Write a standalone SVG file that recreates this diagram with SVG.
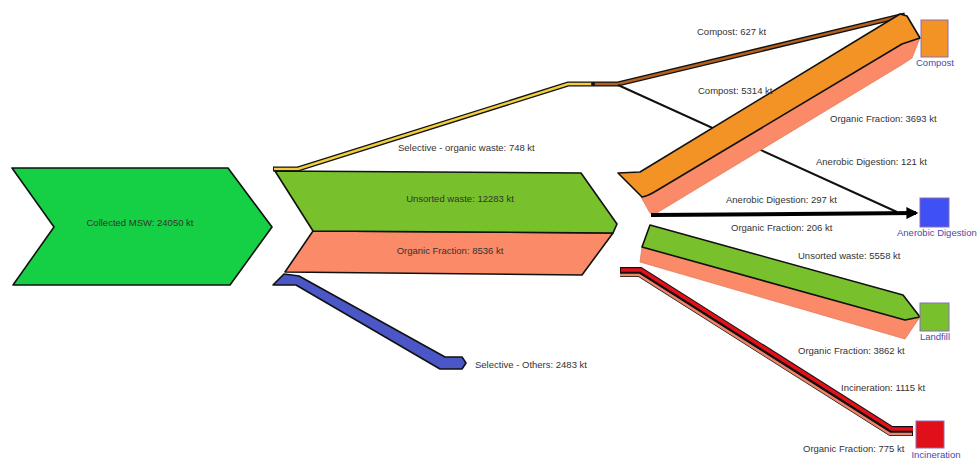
<svg xmlns="http://www.w3.org/2000/svg" width="977" height="459" viewBox="0 0 977 459">
  <style>
    .lbl { font-family: "Liberation Sans", Arial, sans-serif; font-size: 9.5px; fill: #333; }
    .node-lbl { font-family: "Liberation Sans", Arial, sans-serif; font-size: 9.5px; fill: #4a48b0; }
    .band { stroke: #111; stroke-width: 1.6; stroke-linejoin: round; }
    .soft { stroke: #e57a5c; stroke-width: 0.8; stroke-linejoin: round; }
    .sink { stroke: #8a6cb8; stroke-width: 1; }
    .wire { fill: none; stroke-linejoin: miter; }
  </style>
  <defs>
    <marker id="arrow" viewBox="0 0 10 10" refX="8" refY="5" markerWidth="3" markerHeight="3" orient="auto" markerUnits="strokeWidth">
      <path d="M0,0 L10,5 L0,10 z" fill="#000"/>
    </marker>
  </defs>
  <rect width="977" height="459" fill="#fff"/>

  <!-- flows -->
  <g id="connectors">
    <!-- Selective organic waste (yellow) and its continuation to compost (brown) -->
    <polyline class="wire" points="273,169 298,169 568,84 593,84" stroke="#111" stroke-width="5"/>
    <polyline class="wire" points="274,169 298,169 568,84 594,84" stroke="#f2cf3a" stroke-width="2.4"/>
    <polyline class="wire" points="593,84 618,84 905,15" stroke="#111" stroke-width="5"/>
    <polyline class="wire" points="594,84 618,84 905,15" stroke="#b4601c" stroke-width="2.4"/>
    <circle cx="593" cy="84" r="2" fill="#111"/>
    <!-- Anaerobic digestion 121 kt thin line -->
    <line x1="618" y1="85" x2="897" y2="212" stroke="#111" stroke-width="2"/>

    <!-- Compost 5314 (orange) with organic fraction 3693 (salmon) -->
    <polygon class="soft" fill="#fa8a68" points="641,197 902,44 920,38 912,58 903,64 655,214 650,213"/>
    <path class="band" fill="#f39326" d="M618,173 L640,172 L900,14 L907,16 L920,38 L902,44 L656,191 Q648,196 642,197 Z"/>

    <!-- Anaerobic digestion 297 kt thick arrow -->
    <line x1="651" y1="215" x2="916" y2="213" stroke="#000" stroke-width="4" marker-end="url(#arrow)"/>

    <!-- Landfill: unsorted waste 5558 (green) with organic fraction 3862 (salmon) -->
    <polygon class="soft" fill="#fa8a68" points="642,247 905,320 920,317 905,339 640,262"/>
    <polygon class="band" fill="#78c12c" points="650,225 903,295 920,317 905,320 642,247"/>

    <!-- Incineration 1115 (red) with organic fraction 775 (salmon) -->
    <polyline class="wire" points="620,272 640,272 891,431 913,431" stroke="#111" stroke-width="10"/>
    <polyline class="wire" points="620,275 639,275 890,434 912,434" stroke="#f0846a" stroke-width="2.6"/>
    <polyline class="wire" points="621,270 641,270 892,429 913,429" stroke="#e3101a" stroke-width="3.6"/>

    <!-- Selective others (blue) -->
    <polygon class="band" fill="#4b57c6" points="273,285 284,274 299,276 445,357 462,357 466,363 462,369 440,369 296,285"/>
  </g>

  <!-- source node -->
  <g id="node-collected">
    <polygon class="band" fill="#15d045" points="12,168 228,168 272,227 230,285 13,285 54,227"/>
    <text class="lbl" x="140" y="226" text-anchor="middle">Collected MSW: 24050 kt</text>
  </g>

  <!-- collection split node -->
  <g id="node-collection">
    <polygon class="band" fill="#fa8a68" points="313,231 613,233 582,275 285,272"/>
    <polygon class="band" fill="#78c12c" points="275,171 581,173 617,224 613,233 313,231"/>
    <text class="lbl" x="460" y="202" text-anchor="middle">Unsorted waste: 12283 kt</text>
    <text class="lbl" x="450" y="254" text-anchor="middle">Organic Fraction: 8536 kt</text>
  </g>

  <!-- destination nodes -->
  <g id="node-compost">
    <rect class="sink" x="921" y="20" width="27" height="37" fill="#f39326"/>
    <text class="node-lbl" x="935" y="66" text-anchor="middle">Compost</text>
  </g>
  <g id="node-anaerobic">
    <rect class="sink" x="920" y="198" width="29" height="29" fill="#3f50f5"/>
    <text class="node-lbl" x="897" y="236" font-size="9.2">Anerobic Digestion</text>
  </g>
  <g id="node-landfill">
    <rect class="sink" x="920" y="303" width="29" height="28" fill="#78c12c"/>
    <text class="node-lbl" x="935" y="340" text-anchor="middle">Landfill</text>
  </g>
  <g id="node-incineration">
    <rect class="sink" x="916" y="421" width="28" height="27" fill="#e0101a"/>
    <text class="node-lbl" x="936" y="458" text-anchor="middle">Incineration</text>
  </g>

  <!-- flow labels -->
  <g id="flow-labels">
    <text class="lbl" x="398" y="151">Selective - organic waste: 748 kt</text>
    <text class="lbl" x="475" y="368">Selective - Others: 2483 kt</text>
    <text class="lbl" x="697" y="35">Compost: 627 kt</text>
    <text class="lbl" x="698" y="94">Compost: 5314 kt</text>
    <text class="lbl" x="830" y="122">Organic Fraction: 3693 kt</text>
    <text class="lbl" x="816" y="165">Anerobic Digestion: 121 kt</text>
    <text class="lbl" x="726" y="203">Anerobic Digestion: 297 kt</text>
    <text class="lbl" x="731" y="231">Organic Fraction: 206 kt</text>
    <text class="lbl" x="798" y="259">Unsorted waste: 5558 kt</text>
    <text class="lbl" x="798" y="354">Organic Fraction: 3862 kt</text>
    <text class="lbl" x="841" y="391">Incineration: 1115 kt</text>
    <text class="lbl" x="803" y="452">Organic Fraction: 775 kt</text>
  </g>
</svg>
